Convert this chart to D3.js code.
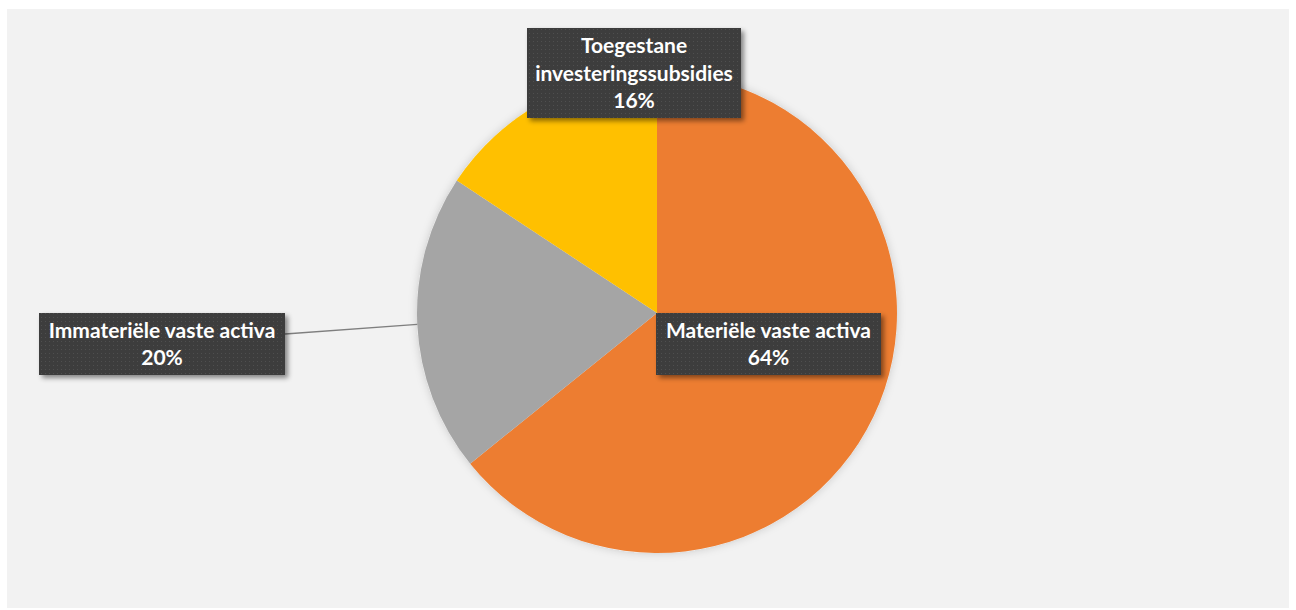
<!DOCTYPE html>
<html><head><meta charset="utf-8">
<script src="https://cdn.jsdelivr.net/npm/d3@7"></script>
<style>html,body{margin:0;padding:0;background:#fff;}svg{display:block;}</style>
</head><body>
<svg id="c" width="1296" height="610"></svg>
<script>
const categories = ["Materiële vaste activa", "Immateriële vaste activa", "Toegestane investeringssubsidies"];
const values = [64.2, 20.1, 15.7];
const labelLines = [["Materiële vaste activa","64%"],["Immateriële vaste activa","20%"],["Toegestane","investeringssubsidies","16%"]];
const colors = ["#ED7D31", "#A5A5A5", "#FFC000"];

const svg = d3.select("#c");
const defs = svg.append("defs");
const pat = defs.append("pattern").attr("id","dots").attr("width",4).attr("height",4).attr("patternUnits","userSpaceOnUse");
pat.append("rect").attr("width",4).attr("height",4).attr("fill","#3d3d3d");
pat.append("rect").attr("x",1).attr("y",1).attr("width",1).attr("height",1).attr("fill","#4f4f4f");
const sh = defs.append("filter").attr("id","sh").attr("x","-20%").attr("y","-20%").attr("width","140%").attr("height","140%");
sh.append("feDropShadow").attr("dx",3).attr("dy",3).attr("stdDeviation",2.5).attr("flood-color","#000").attr("flood-opacity",0.45);
const psh = defs.append("filter").attr("id","psh").attr("x","-10%").attr("y","-10%").attr("width","120%").attr("height","120%");
psh.append("feDropShadow").attr("dx",0).attr("dy",0).attr("stdDeviation",4).attr("flood-color","#000").attr("flood-opacity",0.18);

svg.append("rect").attr("x",7).attr("y",9).attr("width",1282).attr("height",599).attr("fill","#F2F2F2");

const cx = 657, cy = 313, r = 240;
const pie = d3.pie().sort(null).value(d => d);
const arcs = pie(values);
const arc = d3.arc().innerRadius(0).outerRadius(r);
const g = svg.append("g").attr("transform",`translate(${cx},${cy})`);
g.append("circle").attr("r",r).attr("fill","#F2F2F2").attr("filter","url(#psh)");
g.selectAll("path").data(arcs).join("path").attr("d",arc).attr("fill",(d,i)=>colors[i]);

// label boxes: [x, y, w, h]
const boxes = [[656,313,225,62],[39,313,246,62],[527,28,214,90]];
// leader line for Immateriële
const a1 = arcs[1];
const mid = (a1.startAngle + a1.endAngle)/2;
const ex = cx + r*Math.sin(mid)*1.0, ey = cy - r*Math.cos(mid);
svg.append("line").attr("x1",285).attr("y1",334).attr("x2",ex).attr("y2",ey)
  .attr("stroke","#7f7f7f").attr("stroke-width",1.3);

const lg = svg.append("g");
boxes.forEach((b,i)=>{
  lg.append("rect").attr("x",b[0]).attr("y",b[1]).attr("width",b[2]).attr("height",b[3])
    .attr("fill","url(#dots)").attr("filter","url(#sh)");
  const lines = labelLines[i];
  const lh = 27.5;
  const y0 = b[1] + b[3]/2 - (lines.length-1)*lh/2;
  lines.forEach((t,j)=>{
    lg.append("text").attr("x",b[0]+b[2]/2).attr("y",y0+j*lh).attr("dy","0.36em")
      .attr("text-anchor","middle").attr("fill","#fff")
      .style("font-family","Lato, 'Open Sans', sans-serif").style("font-weight","bold").style("font-size","21px")
      .text(t);
  });
});
</script>
</body></html>
